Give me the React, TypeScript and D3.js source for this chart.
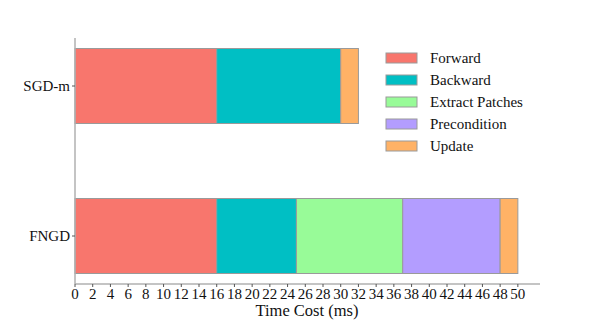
import React from "react";
import * as d3 from "d3";

// time cost per step (ms)
const methods = ["SGD-m", "FNGD"];
const stages = ["Forward", "Backward", "Extract Patches", "Precondition", "Update"];
const forward = [16, 16];
const backward = [14, 9];
const extractPatches = [0, 12];
const precondition = [0, 11];
const update = [2, 2];
const xTicks = d3.range(0, 51, 2);
const colors = ["#F8766D", "#00BFC4", "#98FB98", "#B39DFF", "#FFB266"];

const FONT = "Liberation Serif";

function App() {
  const rows = methods.map((m, i) => ({
    method: m,
    Forward: forward[i],
    Backward: backward[i],
    "Extract Patches": extractPatches[i],
    Precondition: precondition[i],
    Update: update[i],
  }));
  const series = d3.stack<any>().keys(stages)(rows);

  const x = d3.scaleLinear().domain([0, 52.5]).range([75, 540]);
  const y = d3
    .scaleBand()
    .domain(methods)
    .range([38, 284])
    .paddingInner(0.5)
    .paddingOuter(0.07);
  const color = d3.scaleOrdinal<string>().domain(stages).range(colors);
  const axisY = 284;

  return (
    <svg
      width={600}
      height={320}
      style={{ position: "absolute", left: 0, top: 0, background: "#fff", fontFamily: FONT }}
    >
      {/* bars */}
      {series.map((s) => (
        <g key={s.key} fill={color(s.key)}>
          {s
            .filter((v) => v[1] - v[0] > 0)
            .map((v) => (
              <rect
                key={v.data.method}
                x={x(v[0])}
                y={y(v.data.method)}
                width={x(v[1]) - x(v[0])}
                height={y.bandwidth()}
                stroke="#9a9a9a"
                strokeWidth={1}
              />
            ))}
        </g>
      ))}

      {/* x axis */}
      <line x1={x.range()[0]} x2={x.range()[1]} y1={axisY} y2={axisY} stroke="#b0b0b0" strokeWidth={1.5} />
      {xTicks.map((t) => (
        <g key={t} transform={`translate(${x(t)},${axisY})`}>
          <line y1={0} y2={3} stroke="#555" />
          <text y={15} textAnchor="middle" fontSize={15} fill="#111" style={{ fontFamily: FONT }}>
            {t}
          </text>
        </g>
      ))}
      <text x={307} y={316} textAnchor="middle" fontSize={16.5} fill="#111" style={{ fontFamily: FONT }}>
        Time Cost (ms)
      </text>

      {/* y axis */}
      <line x1={75} x2={75} y1={y.range()[0]} y2={axisY} stroke="#b0b0b0" strokeWidth={1.5} />
      {methods.map((m) => {
        const cy = y(m)! + y.bandwidth() / 2;
        return (
          <g key={m} transform={`translate(75,${cy})`}>
            <line x1={-3} x2={0} stroke="#555" />
            <text x={-5} dy="0.32em" textAnchor="end" fontSize={15} fill="#111" style={{ fontFamily: FONT }}>
              {m}
            </text>
          </g>
        );
      })}

      {/* legend */}
      {stages.map((s, i) => (
        <g key={s} transform={`translate(386,${53 + i * 22})`}>
          <rect width={31} height={10} fill={color(s)} stroke="#9a9a9a" strokeWidth={1} />
          <text x={44} y={10} fontSize={15} fill="#111" style={{ fontFamily: FONT }}>
            {s}
          </text>
        </g>
      ))}
    </svg>
  );
}

export default App;
